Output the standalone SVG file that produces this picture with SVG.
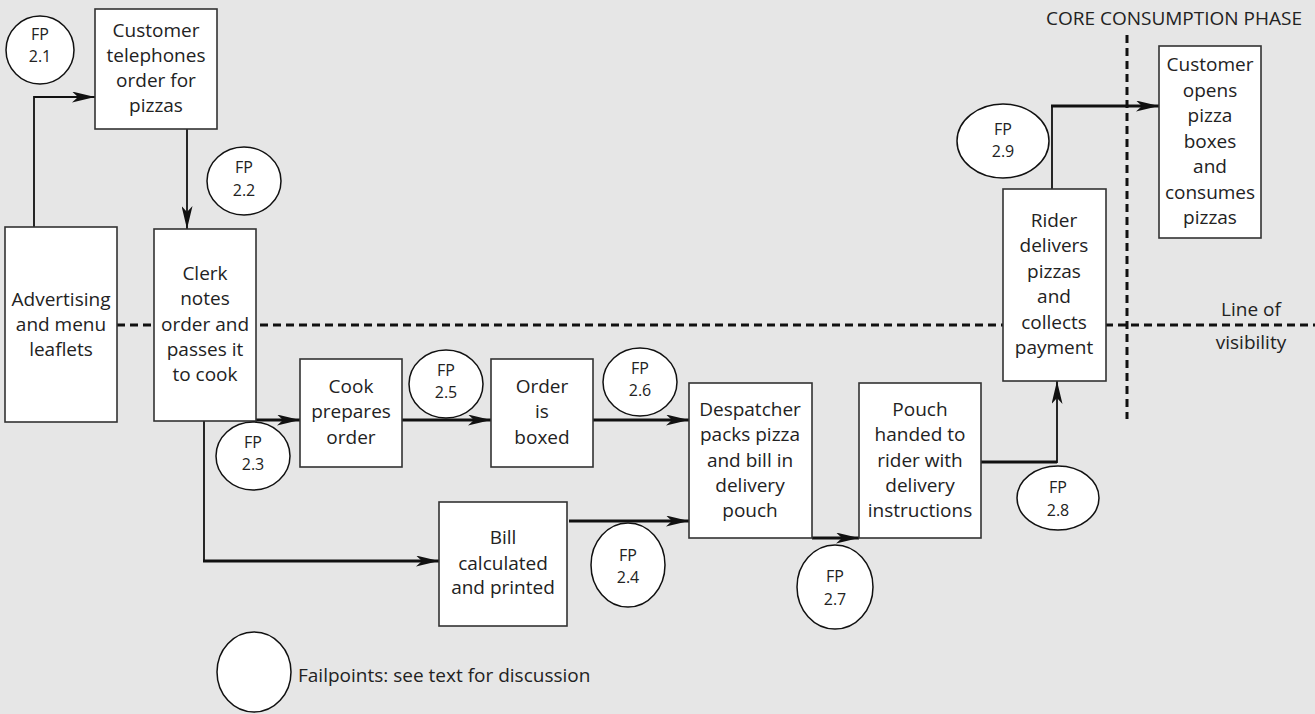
<svg xmlns="http://www.w3.org/2000/svg" width="1315" height="714" viewBox="0 0 1315 714">
<style>
.bg{fill:#e6e6e6}
.box{fill:#fff;stroke:#333;stroke-width:1.6}
.fp{fill:#fff;stroke:#111;stroke-width:1.5}
.t{font-family:"Open Sans","Liberation Sans",sans-serif;font-size:19px;fill:#222;text-anchor:middle}
.s{font-family:"Open Sans","Liberation Sans",sans-serif;font-size:16px;fill:#222;text-anchor:middle}
.thin{fill:none;stroke:#111;stroke-width:1.8}
.thick{fill:none;stroke:#111;stroke-width:2.8}
.dash{fill:none;stroke:#111;stroke-width:3;stroke-dasharray:8 5}
</style>
<defs>
<marker id="ah" viewBox="0 0 23 11" refX="23" refY="5.5" markerWidth="23" markerHeight="11" markerUnits="userSpaceOnUse" orient="auto">
<path d="M0,0 L23,5.5 L0,11 L6,5.5 Z" fill="#111"/>
</marker>
</defs>
<rect class="bg" x="0" y="0" width="1315" height="714"/>

<g id="lines">
<line class="dash" x1="117" y1="325" x2="1315" y2="325"/>
<line class="dash" x1="1127" y1="35" x2="1127" y2="419"/>
<text class="t" x="1174" y="25">CORE CONSUMPTION PHASE</text>
<text class="t" x="1251" y="316">Line of</text>
<text class="t" x="1251" y="349">visibility</text>
</g>

<g id="connectors">
<polyline class="thin" points="34,227 34,97 95,97" marker-end="url(#ah)"/>
<line class="thin" x1="187" y1="129" x2="187" y2="229" marker-end="url(#ah)"/>
<line class="thick" x1="256" y1="420" x2="300" y2="420" marker-end="url(#ah)"/>
<line class="thin" x1="204" y1="421" x2="204" y2="561"/>
<line class="thick" x1="203" y1="561" x2="439" y2="561" marker-end="url(#ah)"/>
<line class="thick" x1="402" y1="420" x2="491" y2="420" marker-end="url(#ah)"/>
<line class="thick" x1="593" y1="420" x2="689" y2="420" marker-end="url(#ah)"/>
<line class="thick" x1="569" y1="521" x2="689" y2="521" marker-end="url(#ah)"/>
<line class="thick" x1="812" y1="538" x2="859" y2="538" marker-end="url(#ah)"/>
<line class="thick" x1="981" y1="462" x2="1057" y2="462"/>
<line class="thin" x1="1057" y1="463" x2="1057" y2="381" marker-end="url(#ah)"/>
<line class="thin" x1="1052" y1="189" x2="1052" y2="106"/>
<line class="thick" x1="1051" y1="106" x2="1159" y2="106" marker-end="url(#ah)"/>
</g>

<g id="customer-telephones">
<rect class="box" x="95" y="9" width="122" height="120"/>
<text class="t" x="156" y="37">Customer</text>
<text class="t" x="156" y="62">telephones</text>
<text class="t" x="156" y="87">order for</text>
<text class="t" x="156" y="112">pizzas</text>
</g>

<g id="advertising">
<rect class="box" x="5" y="227" width="112" height="195"/>
<text class="t" x="61" y="306">Advertising</text>
<text class="t" x="61" y="331">and menu</text>
<text class="t" x="61" y="356">leaflets</text>
</g>

<g id="clerk">
<rect class="box" x="154" y="229" width="102" height="192"/>
<text class="t" x="205" y="280">Clerk</text>
<text class="t" x="205" y="305">notes</text>
<text class="t" x="205" y="331">order and</text>
<text class="t" x="205" y="356">passes it</text>
<text class="t" x="205" y="381">to cook</text>
</g>

<g id="cook">
<rect class="box" x="300" y="359" width="102" height="108"/>
<text class="t" x="351" y="393">Cook</text>
<text class="t" x="351" y="418">prepares</text>
<text class="t" x="351" y="444">order</text>
</g>

<g id="boxed">
<rect class="box" x="491" y="359" width="102" height="108"/>
<text class="t" x="542" y="393">Order</text>
<text class="t" x="542" y="418">is</text>
<text class="t" x="542" y="444">boxed</text>
</g>

<g id="bill">
<rect class="box" x="439" y="502" width="128" height="124"/>
<text class="t" x="503" y="544">Bill</text>
<text class="t" x="503" y="570">calculated</text>
<text class="t" x="503" y="594">and printed</text>
</g>

<g id="despatcher">
<rect class="box" x="689" y="383" width="123" height="155"/>
<text class="t" x="750" y="416">Despatcher</text>
<text class="t" x="750" y="441">packs pizza</text>
<text class="t" x="750" y="467">and bill in</text>
<text class="t" x="750" y="492">delivery</text>
<text class="t" x="750" y="517">pouch</text>
</g>

<g id="pouch">
<rect class="box" x="859" y="383" width="122" height="155"/>
<text class="t" x="920" y="416">Pouch</text>
<text class="t" x="920" y="441">handed to</text>
<text class="t" x="920" y="467">rider with</text>
<text class="t" x="920" y="492">delivery</text>
<text class="t" x="920" y="517">instructions</text>
</g>

<g id="rider">
<rect class="box" x="1003" y="189" width="103" height="192"/>
<text class="t" x="1054" y="227">Rider</text>
<text class="t" x="1054" y="252">delivers</text>
<text class="t" x="1054" y="278">pizzas</text>
<text class="t" x="1054" y="303">and</text>
<text class="t" x="1054" y="329">collects</text>
<text class="t" x="1054" y="354">payment</text>
</g>

<g id="consumes">
<rect class="box" x="1159" y="46" width="102" height="192"/>
<text class="t" x="1210" y="71">Customer</text>
<text class="t" x="1210" y="97">opens</text>
<text class="t" x="1210" y="122">pizza</text>
<text class="t" x="1210" y="148">boxes</text>
<text class="t" x="1210" y="173">and</text>
<text class="t" x="1210" y="199">consumes</text>
<text class="t" x="1210" y="224">pizzas</text>
</g>

<g id="fp21"><ellipse class="fp" cx="40" cy="50" rx="34" ry="34"/><text class="s" x="40" y="40">FP</text><text class="s" x="40" y="62">2.1</text></g>
<g id="fp22"><ellipse class="fp" cx="244" cy="181" rx="37" ry="34"/><text class="s" x="244" y="173">FP</text><text class="s" x="244" y="196">2.2</text></g>
<g id="fp23"><ellipse class="fp" cx="253" cy="456" rx="37" ry="34"/><text class="s" x="253" y="448">FP</text><text class="s" x="253" y="470">2.3</text></g>
<g id="fp24"><ellipse class="fp" cx="628" cy="565" rx="37" ry="42"/><text class="s" x="628" y="561">FP</text><text class="s" x="628" y="583">2.4</text></g>
<g id="fp25"><ellipse class="fp" cx="446" cy="384" rx="37" ry="34"/><text class="s" x="446" y="376">FP</text><text class="s" x="446" y="398">2.5</text></g>
<g id="fp26"><ellipse class="fp" cx="640" cy="382" rx="37" ry="34"/><text class="s" x="640" y="374">FP</text><text class="s" x="640" y="396">2.6</text></g>
<g id="fp27"><ellipse class="fp" cx="835" cy="587" rx="38" ry="42"/><text class="s" x="835" y="582">FP</text><text class="s" x="835" y="605">2.7</text></g>
<g id="fp28"><ellipse class="fp" cx="1058" cy="498" rx="41" ry="32"/><text class="s" x="1058" y="493">FP</text><text class="s" x="1058" y="516">2.8</text></g>
<g id="fp29"><ellipse class="fp" cx="1003" cy="141" rx="46" ry="37"/><text class="s" x="1003" y="135">FP</text><text class="s" x="1003" y="157">2.9</text></g>

<g id="legend">
<ellipse class="fp" cx="254" cy="672" rx="37" ry="40"/>
<text class="t" x="298" y="682" style="text-anchor:start">Failpoints: see text for discussion</text>
</g>
</svg>
